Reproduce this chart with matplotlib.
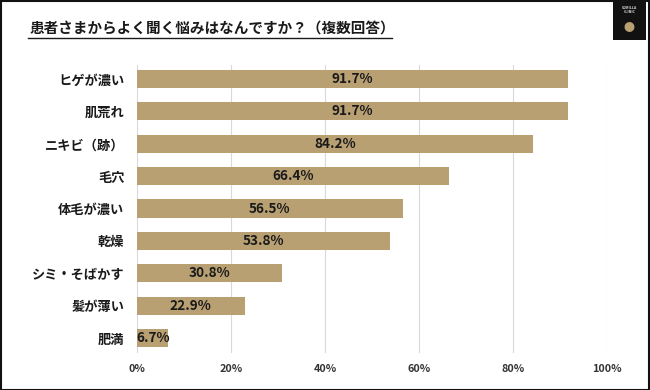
import matplotlib
matplotlib.use("Agg")
import matplotlib.pyplot as plt
from matplotlib.lines import Line2D
from matplotlib.patches import Rectangle

plt.rcParams['font.family'] = ['Noto Sans CJK JP', 'DejaVu Sans']

categories = ["ヒゲが濃い", "肌荒れ", "ニキビ（跡）", "毛穴", "体毛が濃い", "乾燥", "シミ・そばかす", "髪が薄い", "肥満"]
values = [91.7, 91.7, 84.2, 66.4, 56.5, 53.8, 30.8, 22.9, 6.7]
xticks = [0, 20, 40, 60, 80, 100]
title = "患者さまからよく聞く悩みはなんですか？（複数回答）"

W, H = 650, 390
fig = plt.figure(figsize=(W/100, H/100), dpi=100)
ax = fig.add_axes([137/W, 1-353/H, (607-137)/W, (353-65)/H])

bar_color = "#B9A073"
ypos = list(range(len(categories)))
ax.barh(ypos, values, height=0.565, color=bar_color, zorder=3)
for y, v in zip(ypos, values):
    ax.text(v/2, y, f"{v}%", ha="center", va="center", fontsize=9.8,
            fontweight="bold", color="#1a1a1a", zorder=4)

ax.set_ylim(8.46, -0.43)
ax.set_xlim(0, 100)
ax.set_yticks(ypos)
ax.set_yticklabels(categories, fontsize=9.5, fontweight="bold", color="#1a1a1a")
ax.set_xticks(xticks)
ax.set_xticklabels([f"{t}%" for t in xticks], fontsize=7.8, fontweight="bold", color="#333333")
ax.tick_params(axis="both", length=0)
ax.tick_params(axis="y", pad=9)
ax.tick_params(axis="x", pad=8)
ax.grid(axis="x", color="#d9d9d9", linewidth=0.8, zorder=0)
for s in ax.spines.values():
    s.set_visible(False)

# Title with underline
fig.text(30/W, 1-29/H, title, fontsize=10.5, fontweight="bold", color="#1a1a1a",
         ha="left", va="center")
fig.add_artist(Line2D([28/W, 392/W], [1-38/H, 1-38/H], color="#1a1a1a", linewidth=1.0))

# Logo block
fig.add_artist(Rectangle((613/W, 1-40/H), 33/W, 38/H, transform=fig.transFigure,
                         facecolor="#111111", edgecolor="none"))
fig.text(629.5/W, 1-10/H, "GORILLA\nCLINIC", fontsize=2.5, color="#dddddd",
         ha="center", va="center", fontweight="bold")
fig.text(629.5/W, 1-28/H, "●", fontsize=8, color="#B9A073", ha="center", va="center")

# Border
fig.add_artist(Rectangle((0.5/W, 0.5/H), 1-1.5/W, 1-1.5/H, transform=fig.transFigure,
                         facecolor="none", edgecolor="#111111", linewidth=1.5))

fig.savefig("out.png", dpi=100, facecolor="white")
